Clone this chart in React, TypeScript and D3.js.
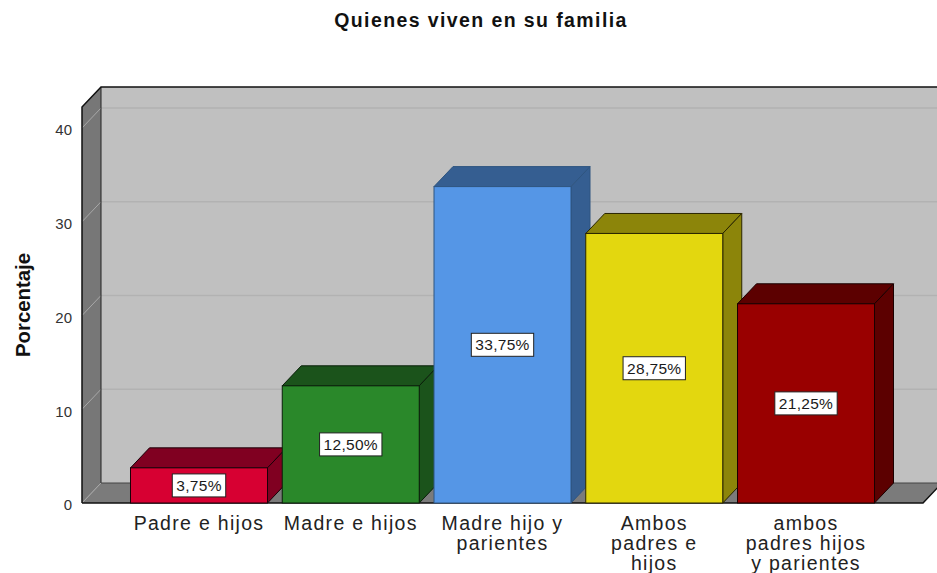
import React from "react";
import * as d3 from "d3";

const categories: string[][] = [
  ["Padre e hijos"],
  ["Madre e hijos"],
  ["Madre hijo y", "parientes"],
  ["Ambos", "padres e", "hijos"],
  ["ambos", "padres hijos", "y parientes"],
];
const values: number[] = [3.75, 12.5, 33.75, 28.75, 21.25];
const labels: string[] = ["3,75%", "12,50%", "33,75%", "28,75%", "21,25%"];
const frontColors: string[] = ["#d70032", "#2a882a", "#5596e6", "#e3d70f", "#990000"];
const darkColors: string[] = ["#800021", "#1b531b", "#355e91", "#8c850a", "#5c0000"];
const strokeColors: string[] = ["#1a0008", "#0a1f0a", "#2f5580", "#2a2600", "#1a0000"];
const yTicks: number[] = [0, 10, 20, 30, 40];
const title = "Quienes viven en su familia";
const yTitle = "Porcentaje";

const W = 937;
const H = 573;
const DX = 19;
const DY = 20;
const X0 = 82;
const X1 = 923;
const YB = 503;
const YT = 107;

const charW: Record<string, number> = { "0": 0.556, "1": 0.556, "2": 0.556, "3": 0.556, "4": 0.556, "5": 0.556, "6": 0.556, "7": 0.556, "8": 0.556, "9": 0.556, ",": 0.278, "%": 0.889 };

export default function App() {
  const keys = categories.map((c) => c.join(" "));
  const x = d3.scaleBand<string>().domain(keys).range([X0, X1]).paddingInner(0.0972).paddingOuter(0.3196);
  const y = d3.scaleLinear().domain([0, 42.24]).range([YB, YT]);
  const bw = x.bandwidth();
  const bx1 = X1 + DX;

  const pts = (arr: number[][]) => arr.map((p) => p.join(",")).join(" ");

  return (
    <svg width={W} height={H} style={{ position: "absolute", left: 0, top: 0, background: "#fff" }} fontFamily="'Liberation Sans', Arial, sans-serif">
      <text x={481} y={27} textAnchor="middle" fontSize={19.5} fontWeight="bold" letterSpacing={1.4} fill="#111">{title}</text>
      <text transform={`translate(30,305) rotate(-90)`} textAnchor="middle" fontSize={21} fontWeight="bold" fill="#111" textLength={104} lengthAdjust="spacingAndGlyphs">{yTitle}</text>

      {/* back wall */}
      <polygon points={pts([[X0 + DX, YT - DY], [bx1 + 30, YT - DY], [bx1 + 30, YB - DY], [X0 + DX, YB - DY]])} fill="#c0c0c0" />
      {/* side wall */}
      <polygon points={pts([[X0, YT], [X0 + DX, YT - DY], [X0 + DX, YB - DY], [X0, YB]])} fill="#777777" />
      {/* floor */}
      <polygon points={pts([[X0, YB], [X1, YB], [bx1, YB - DY], [X0 + DX, YB - DY]])} fill="#7b7b7b" />

      {/* gridlines */}
      {yTicks.filter((t) => t > 0).map((t) => (
        <g key={t}>
          <line x1={X0 + DX} x2={bx1 + 30} y1={y(t) - DY} y2={y(t) - DY} stroke="#b2b2b2" strokeWidth={1.5} />
          <line x1={X0} x2={X0 + DX} y1={y(t)} y2={y(t) - DY} stroke="#a8a8a8" strokeWidth={1} />
        </g>
      ))}
      <line x1={X0} x2={X0 + DX} y1={YB} y2={YB - DY} stroke="#a8a8a8" strokeWidth={1} />

      {/* outlines */}
      <line x1={X0 + DX} x2={X0 + DX} y1={YT - DY} y2={YB - DY} stroke="#222" strokeWidth={1} />
      <line x1={X0 + DX} x2={bx1 + 30} y1={YB - DY} y2={YB - DY} stroke="#444" strokeWidth={1} />
      <polyline points={pts([[X0, YB], [X0, YT], [X0 + DX, YT - DY], [bx1 + 30, YT - DY]])} fill="none" stroke="#111" strokeWidth={1.5} />
      <polyline points={pts([[X0, YB], [X1, YB], [bx1, YB - DY]])} fill="none" stroke="#111" strokeWidth={1.5} />

      {/* tick labels */}
      {yTicks.map((t) => (
        <text key={t} x={72} y={y(t) + 2} dy="0.35em" textAnchor="end" fontSize={15} fill="#333">{t}</text>
      ))}

      {/* bars */}
      {values.map((v, i) => {
        const x0 = x(keys[i]) as number;
        const x1 = x0 + bw;
        const yt = y(v);
        const sc = strokeColors[i];
        return (
          <g key={i}>
            <polygon points={pts([[x0, yt], [x1, yt], [x1 + DX, yt - DY], [x0 + DX, yt - DY]])} fill={darkColors[i]} stroke={sc} strokeWidth={1} strokeLinejoin="round" />
            <polygon points={pts([[x1, yt], [x1 + DX, yt - DY], [x1 + DX, YB - DY], [x1, YB]])} fill={darkColors[i]} stroke={sc} strokeWidth={1} strokeLinejoin="round" />
            <rect x={x0} y={yt} width={bw} height={YB - yt} fill={frontColors[i]} stroke={sc} strokeWidth={1} />
          </g>
        );
      })}

      {/* data labels */}
      {values.map((v, i) => {
        const cx = (x(keys[i]) as number) + bw / 2;
        const cy = (y(v) + YB) / 2;
        const s = labels[i];
        const tw = s.split("").reduce((a, c) => a + (charW[c] ?? 0.556), 0) * 15.5 + 0.3 * s.length;
        const w = tw + 8;
        return (
          <g key={i}>
            <rect x={cx - w / 2} y={cy - 11.5} width={w} height={23} fill="#fff" stroke="#222" strokeWidth={1} />
            <text x={cx} y={cy} dy="0.36em" textAnchor="middle" fontSize={15.5} letterSpacing={0.3} fill="#1a1a1a">{s}</text>
          </g>
        );
      })}

      {/* category labels */}
      {categories.map((lines, i) => {
        const cx = (x(keys[i]) as number) + bw / 2;
        return (
          <text key={i} textAnchor="middle" fontSize={19.5} letterSpacing={1.3} fill="#222">
            {lines.map((l, j) => (
              <tspan key={j} x={cx} y={530 + j * 20}>{l}</tspan>
            ))}
          </text>
        );
      })}
    </svg>
  );
}
